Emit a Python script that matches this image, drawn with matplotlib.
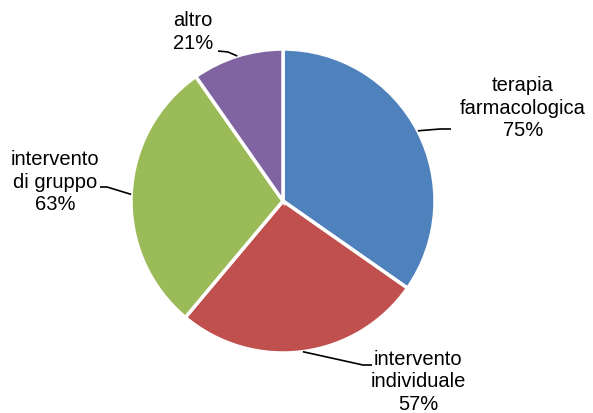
import numpy as np
import matplotlib
matplotlib.use('Agg')
import matplotlib.pyplot as plt

plt.rcParams['font.family'] = ['Liberation Sans', 'DejaVu Sans']

labels = ["terapia\nfarmacologica", "intervento\nindividuale", "intervento\ndi gruppo", "altro"]
values = [75, 57, 63, 21]
colors = ["#4F81BD", "#C0504D", "#9BBB59", "#8064A2"]

# label layout in pixel coords (x, y from top): label center, elbow, line end
label_pos = [(523, 108), (418, 382), (55, 182), (193, 32)]
elbows = [(440, 130), (363, 366), (107, 188), (228, 53)]
line_end = [(451, 130), (372, 366), (100, 188), (218, 52)]

W, H = 593, 414
fig = plt.figure(figsize=(W / 100, H / 100), dpi=100)
ax = fig.add_axes([0, 0, 1, 1])

cx, cy, r = 283, H - 202, 152
wedges, _ = ax.pie(values, colors=colors, startangle=90, counterclock=False,
                   center=(cx, cy), radius=r, frame=True,
                   wedgeprops=dict(edgecolor='white', linewidth=2.5))
ax.set_xlim(0, W)
ax.set_ylim(0, H)
ax.axis('off')

for w, lab, val, lp, el, le in zip(wedges, labels, values, label_pos, elbows, line_end):
    mid = np.deg2rad((w.theta1 + w.theta2) / 2)
    ax_, ay_ = cx + r * np.cos(mid), cy + r * np.sin(mid)
    ax.plot([ax_, el[0], le[0]], [ay_, H - el[1], H - le[1]], color='black', lw=1.2,
            solid_capstyle='butt')
    ax.text(lp[0], H - lp[1], "%s\n%d%%" % (lab, val), ha='center', va='center',
            multialignment='center', fontsize=14.5, linespacing=1.22)

fig.savefig("out.png", dpi=100)
